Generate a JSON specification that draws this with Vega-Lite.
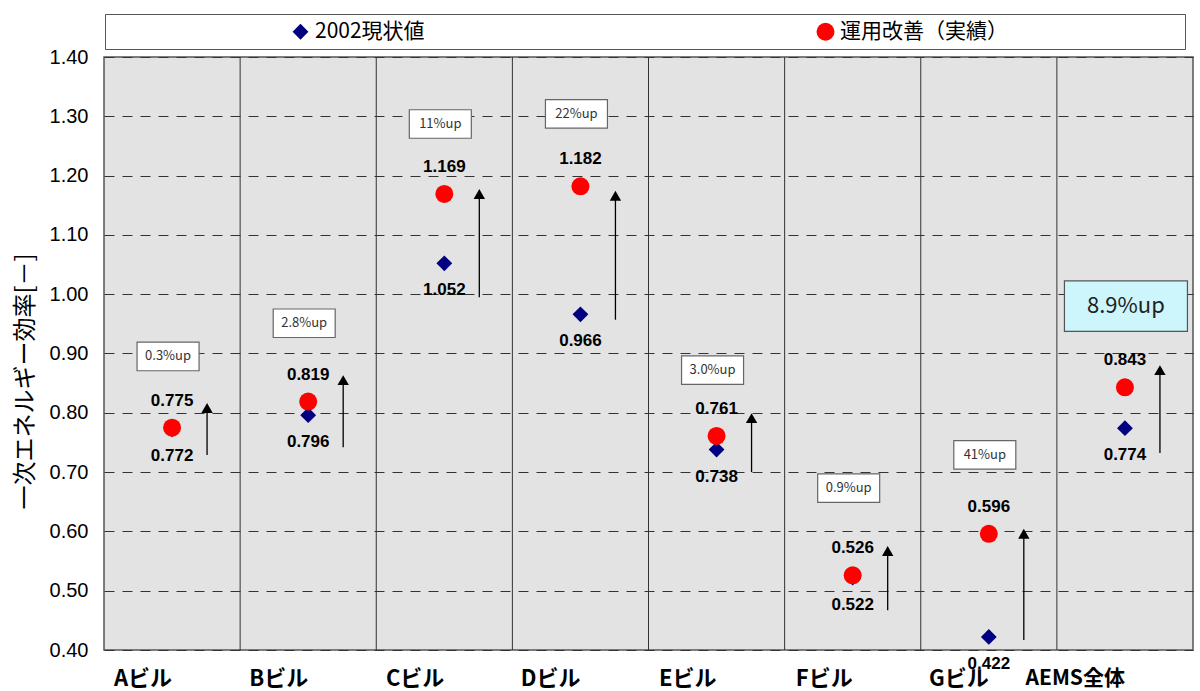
{
  "$schema": "https://vega.github.io/schema/vega-lite/v6.json",
  "width": 1089,
  "height": 593,
  "autosize": {"type": "none"},
  "padding": {"left": 104, "top": 57, "right": 7, "bottom": 41},
  "background": "white",
  "datasets": {
    "points": [
      {"cat": "Aビル", "series": "2002現状値", "value": 0.772},
      {"cat": "Bビル", "series": "2002現状値", "value": 0.796},
      {"cat": "Cビル", "series": "2002現状値", "value": 1.052},
      {"cat": "Dビル", "series": "2002現状値", "value": 0.966},
      {"cat": "Eビル", "series": "2002現状値", "value": 0.738},
      {"cat": "Fビル", "series": "2002現状値", "value": 0.522},
      {"cat": "Gビル", "series": "2002現状値", "value": 0.422},
      {"cat": "AEMS全体", "series": "2002現状値", "value": 0.774},
      {"cat": "Aビル", "series": "運用改善（実績）", "value": 0.775},
      {"cat": "Bビル", "series": "運用改善（実績）", "value": 0.819},
      {"cat": "Cビル", "series": "運用改善（実績）", "value": 1.169},
      {"cat": "Dビル", "series": "運用改善（実績）", "value": 1.182},
      {"cat": "Eビル", "series": "運用改善（実績）", "value": 0.761},
      {"cat": "Fビル", "series": "運用改善（実績）", "value": 0.526},
      {"cat": "Gビル", "series": "運用改善（実績）", "value": 0.596},
      {"cat": "AEMS全体", "series": "運用改善（実績）", "value": 0.843}
    ],
    "notes": [
      {"cat": "Aビル", "pct": "0.3%up", "box": 0.895, "lo": 0.729, "hi": 0.808},
      {"cat": "Bビル", "pct": "2.8%up", "box": 0.951, "lo": 0.742, "hi": 0.855},
      {"cat": "Cビル", "pct": "11%up", "box": 1.287, "lo": 0.995, "hi": 1.169},
      {"cat": "Dビル", "pct": "22%up", "box": 1.304, "lo": 0.957, "hi": 1.166},
      {"cat": "Eビル", "pct": "3.0%up", "box": 0.872, "lo": 0.700, "hi": 0.791},
      {"cat": "Fビル", "pct": "0.9%up", "box": 0.673, "lo": 0.467, "hi": 0.567},
      {"cat": "Gビル", "pct": "41%up", "box": 0.729, "lo": 0.417, "hi": 0.596},
      {"cat": "AEMS全体", "pct": "8.9%up", "box": 0.980, "lo": 0.732, "hi": 0.872}
    ]
  },
  "layer": [
    {
      "data": {"name": "notes"},
      "transform": [{"filter": "datum.cat !== 'Aビル'"}],
      "mark": {"type": "rule", "color": "#333333", "strokeWidth": 1},
      "encoding": {
        "x": {"field": "cat", "type": "nominal", "sort": null, "bandPosition": 0}
      }
    },
    {
      "data": {"name": "notes"},
      "mark": {"type": "rule", "color": "black", "strokeWidth": 1.3, "xOffset": 35},
      "encoding": {
        "x": {"field": "cat", "type": "nominal", "sort": null},
        "y": {"field": "lo", "type": "quantitative", "title": "一次エネルギー効率[－]"},
        "y2": {"field": "hi"}
      }
    },
    {
      "data": {"name": "notes"},
      "mark": {"type": "point", "shape": "triangle-up", "filled": true, "color": "black", "opacity": 1, "size": 130, "xOffset": 35},
      "encoding": {
        "x": {"field": "cat", "type": "nominal", "sort": null},
        "y": {"field": "hi", "type": "quantitative", "title": "一次エネルギー効率[－]"}
      }
    },
    {
      "data": {"name": "notes"},
      "transform": [{"filter": "datum.cat !== 'AEMS全体'"}],
      "mark": {"type": "point", "shape": "M-1,-0.46L1,-0.46L1,0.46L-1,0.46Z", "filled": false, "fill": "white", "fillOpacity": 1, "stroke": "#666666", "strokeWidth": 1.2, "opacity": 1, "size": 3844, "xOffset": -4},
      "encoding": {
        "x": {"field": "cat", "type": "nominal", "sort": null},
        "y": {"field": "box", "type": "quantitative", "title": "一次エネルギー効率[－]"}
      }
    },
    {
      "data": {"name": "notes"},
      "transform": [{"filter": "datum.cat === 'AEMS全体'"}],
      "mark": {"type": "point", "shape": "M-1,-0.41L1,-0.41L1,0.41L-1,0.41Z", "filled": false, "fill": "#ccf6fb", "fillOpacity": 1, "stroke": "#555555", "strokeWidth": 1.2, "opacity": 1, "size": 15129, "xOffset": 1},
      "encoding": {
        "x": {"field": "cat", "type": "nominal", "sort": null},
        "y": {"field": "box", "type": "quantitative", "title": "一次エネルギー効率[－]"}
      }
    },
    {
      "data": {"name": "notes"},
      "transform": [{"filter": "datum.cat !== 'AEMS全体'"}],
      "mark": {"type": "text", "font": "Noto Sans CJK JP", "fontSize": 13, "color": "#333333", "xOffset": -4},
      "encoding": {
        "x": {"field": "cat", "type": "nominal", "sort": null},
        "y": {"field": "box", "type": "quantitative", "title": "一次エネルギー効率[－]"},
        "text": {"field": "pct"}
      }
    },
    {
      "data": {"name": "notes"},
      "transform": [{"filter": "datum.cat === 'AEMS全体'"}],
      "mark": {"type": "text", "font": "Noto Sans CJK JP", "fontSize": 22, "color": "#222222", "xOffset": 1},
      "encoding": {
        "x": {"field": "cat", "type": "nominal", "sort": null},
        "y": {"field": "box", "type": "quantitative", "title": "一次エネルギー効率[－]"},
        "text": {"field": "pct"}
      }
    },
    {
      "data": {"name": "points"},
      "transform": [{"filter": "datum.series === '運用改善（実績）'"}],
      "mark": {"type": "text", "font": "Liberation Sans", "fontWeight": "bold", "fontSize": 17, "color": "black", "dy": -27},
      "encoding": {
        "x": {"field": "cat", "type": "nominal", "sort": null},
        "y": {"field": "value", "type": "quantitative", "title": "一次エネルギー効率[－]"},
        "text": {"field": "value", "format": ".3f"}
      }
    },
    {
      "data": {"name": "points"},
      "transform": [{"filter": "datum.series === '2002現状値'"}],
      "mark": {"type": "text", "font": "Liberation Sans", "fontWeight": "bold", "fontSize": 17, "color": "black", "dy": 27},
      "encoding": {
        "x": {"field": "cat", "type": "nominal", "sort": null},
        "y": {"field": "value", "type": "quantitative", "title": "一次エネルギー効率[－]"},
        "text": {"field": "value", "format": ".3f"}
      }
    },
    {
      "data": {"name": "points"},
      "mark": {"type": "point", "filled": true, "opacity": 1},
      "encoding": {
        "x": {
          "field": "cat", "type": "nominal", "sort": null,
          "scale": {"domain": ["Aビル", "Bビル", "Cビル", "Dビル", "Eビル", "Fビル", "Gビル", "AEMS全体"], "paddingInner": 0, "paddingOuter": 0},
          "axis": {
            "title": null, "labelAngle": 0, "ticks": false, "domain": false, "grid": false,
            "labelFont": "Noto Sans CJK JP", "labelFontWeight": "bold",
            "labelFontSize": {"condition": {"test": "datum.value === 'AEMS全体'", "value": 21}, "value": 22},
            "labelColor": "black", "labelPadding": 28
          }
        },
        "y": {
          "field": "value", "type": "quantitative", "title": "一次エネルギー効率[－]",
          "scale": {"domain": [0.4, 1.4], "nice": false, "zero": false}
        },
        "color": {
          "field": "series", "type": "nominal",
          "scale": {"domain": ["2002現状値", "運用改善（実績）"], "range": ["#000080", "#ff0000"]},
          "legend": {
            "title": "\u200b\u00a0\u00a0\u00a0\u00a0\u00a0\u00a0\u00a0\u00a0\u00a0\u00a0\u00a0\u00a0\u00a0\u00a0\u00a0\u00a0\u00a0\u00a0\u00a0\u00a0\u00a0\u00a0\u00a0\u00a0\u00a0\u00a0\u00a0\u00a0\u00a0\u00a0\u00a0\u200b",
            "labelExpr": "datum.value === '運用改善（実績）' ? '運用改善（実績）\u00a0\u00a0\u00a0\u00a0\u00a0\u00a0\u00a0\u00a0\u00a0\u00a0\u00a0\u00a0\u00a0\u00a0\u00a0\u00a0\u00a0\u00a0\u00a0\u00a0\u00a0\u00a0\u00a0\u00a0\u00a0\u00a0\u00a0\u00a0\u00a0\u00a0\u00a0\u00a0\u00a0\u00a0\u00a0\u00a0\u200b' : datum.label"
          }
        },
        "shape": {
          "field": "series", "type": "nominal",
          "scale": {"domain": ["2002現状値", "運用改善（実績）"], "range": ["diamond", "circle"]},
          "legend": {"title": "\u200b\u00a0\u00a0\u00a0\u00a0\u00a0\u00a0\u00a0\u00a0\u00a0\u00a0\u00a0\u00a0\u00a0\u00a0\u00a0\u00a0\u00a0\u00a0\u00a0\u00a0\u00a0\u00a0\u00a0\u00a0\u00a0\u00a0\u00a0\u00a0\u00a0\u00a0\u00a0\u200b"}
        },
        "size": {
          "field": "series", "type": "nominal",
          "scale": {"domain": ["2002現状値", "運用改善（実績）"], "range": [250, 324]},
          "legend": {"title": "\u200b\u00a0\u00a0\u00a0\u00a0\u00a0\u00a0\u00a0\u00a0\u00a0\u00a0\u00a0\u00a0\u00a0\u00a0\u00a0\u00a0\u00a0\u00a0\u00a0\u00a0\u00a0\u00a0\u00a0\u00a0\u00a0\u00a0\u00a0\u00a0\u00a0\u00a0\u00a0\u200b"}
        }
      }
    }
  ],
  "config": {
    "numberFormat": ".2f",
    "view": {"fill": "#e3e3e3", "stroke": "#555555", "strokeWidth": 1.5},
    "axisY": {
      "titleFont": "Noto Sans CJK JP", "titleFontSize": 24, "titleFontWeight": "normal", "titleColor": "black", "titlePadding": 12,
      "titleY": 324,
      "tickCount": 10, "labelFont": "Liberation Sans", "labelFontSize": 20, "labelColor": "black",
      "ticks": false, "domain": false, "labelPadding": 16,
      "grid": true, "gridColor": "#333333", "gridDash": [10, 8], "gridWidth": 1
    },
    "legend": {
      "orient": "none", "legendX": 1, "legendY": -43, "direction": "horizontal",
      "titleOrient": "left", "titleFont": "Liberation Sans", "titleFontSize": 20, "titleLimit": 600, "titlePadding": 5,
      "strokeColor": "#555555", "fillColor": "white", "padding": 7,
      "labelFont": "Noto Sans CJK JP", "labelFontSize": 21, "labelColor": "black", "labelLimit": 600,
      "columnPadding": 390, "labelOffset": 4
    }
  }
}
